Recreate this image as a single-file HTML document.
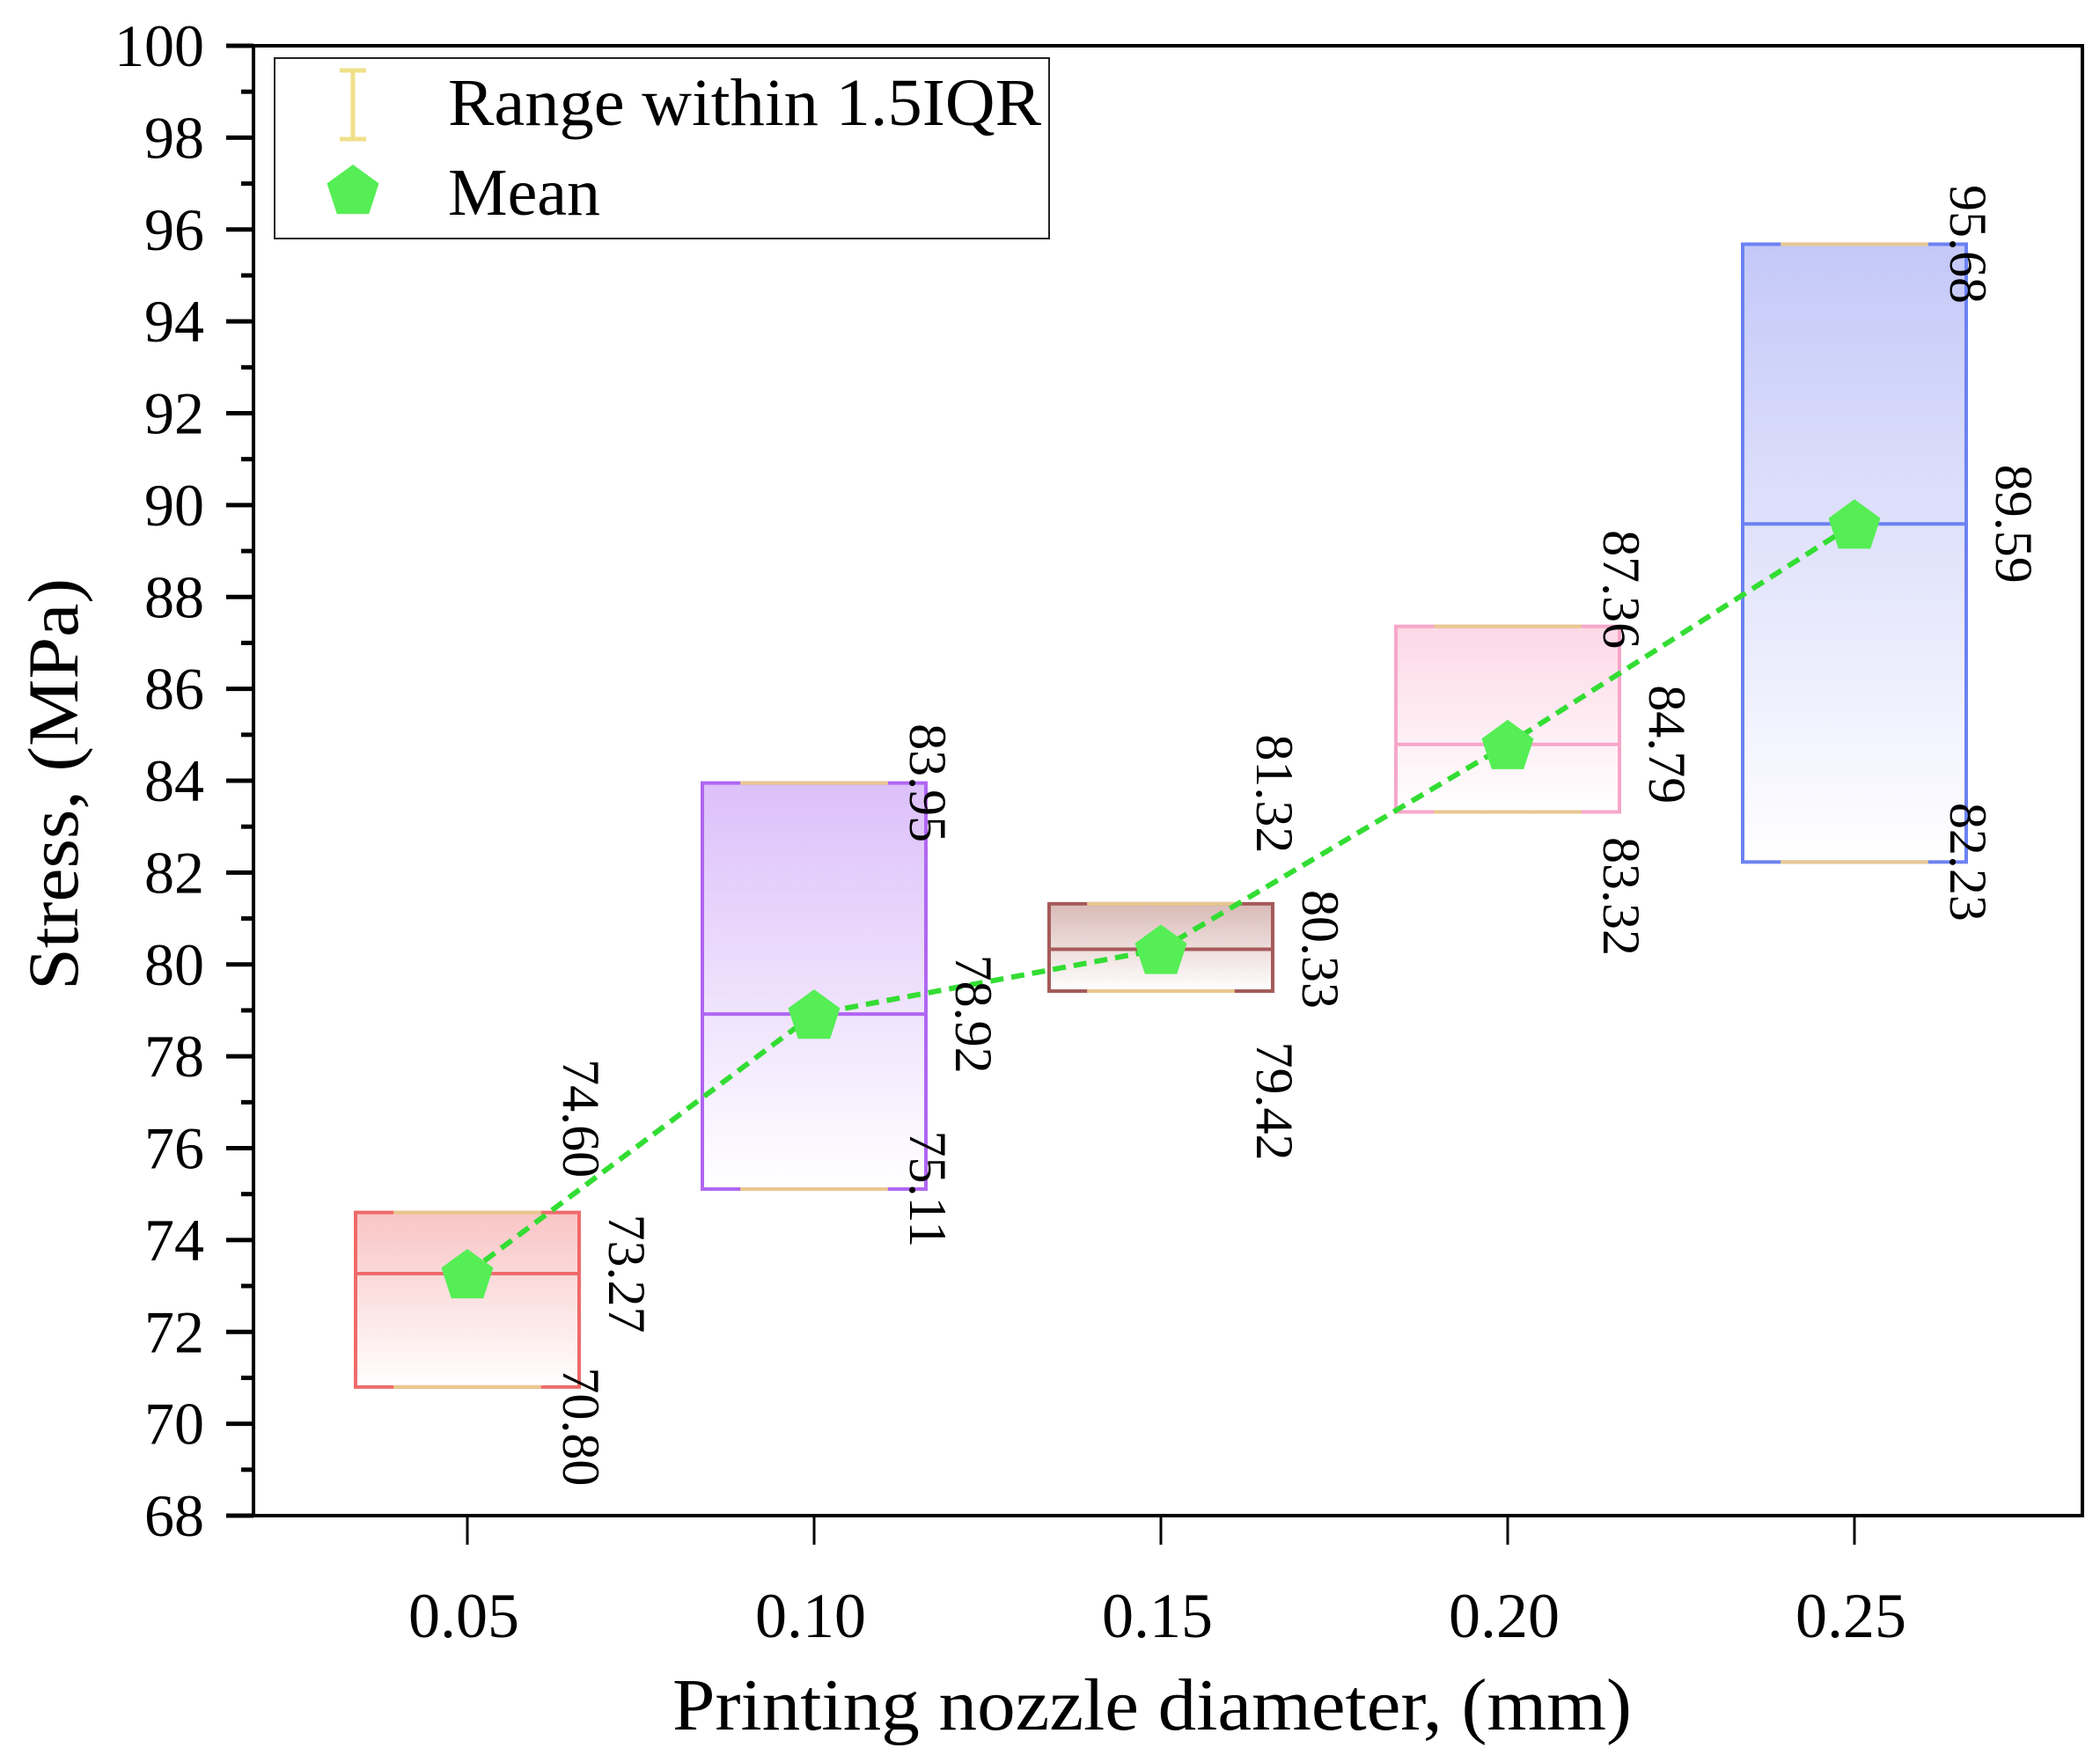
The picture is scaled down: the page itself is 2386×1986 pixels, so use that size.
<!DOCTYPE html>
<html><head><meta charset="utf-8"><style>
html,body{margin:0;padding:0;background:#fff}
svg{display:block}
text{font-family:"Liberation Serif",serif;fill:#000}
</style></head><body>
<svg id="chart" width="2386" height="1986" viewBox="0 0 2386 1986" xmlns="http://www.w3.org/2000/svg">
<defs id="defs"></defs>
<g id="plot"></g>
</svg>
<script>
const categories = ["0.05","0.10","0.15","0.20","0.25"];
const xValues = [0.05,0.10,0.15,0.20,0.25];
const maxVals = [74.60,83.95,81.32,87.36,95.68];
const medianVals = [73.27,78.92,80.33,84.79,89.59];
const minVals = [70.80,75.11,79.42,83.32,82.23];
const meanVals = [73.27,78.92,80.33,84.79,89.59];
const yTicks = [68,70,72,74,76,78,80,82,84,86,88,90,92,94,96,98,100];

const strokeColors = ["#f06a6a","#b066f2","#a65a5a","#f7a6ca","#6c82f2"];
const fillColors = ["#f9c4c4","#dcc0fa","#d9bab6","#fcd8e6","#c4c8f8"];
// label vertical shifts (px) to avoid overlaps
const maxShift = [-107,0,-125,-42,0];
const minShift = [45,0,125,96,0];

const L=288,R=2366,T=52,B=1722;
const X = v => 531 + (v-0.05)/0.05*394;
const Y = v => B - (v-68)/(100-68)*(B-T);
const NS="http://www.w3.org/2000/svg";
const svg=document.getElementById('chart');
const g=document.getElementById('plot');
const defs=document.getElementById('defs');
function el(tag,attrs,parent){const e=document.createElementNS(NS,tag);for(const k in attrs)e.setAttribute(k,attrs[k]);(parent||g).appendChild(e);return e;}

const hw=127;
categories.forEach((c,i)=>{
  const gr=el('linearGradient',{id:'gr'+i,x1:0,y1:0,x2:0,y2:1},defs);
  el('stop',{offset:'0','stop-color':fillColors[i]},gr);
  el('stop',{offset:'1','stop-color':'#ffffff'},gr);
  const cx=X(xValues[i]);
  const r=el('rect',{x:cx-hw,y:Y(maxVals[i]),width:2*hw,height:Y(minVals[i])-Y(maxVals[i]),fill:'url(#gr'+i+')',stroke:strokeColors[i],'stroke-width':4});
  
  
  const m=el('line',{x1:cx-hw,x2:cx+hw,y1:Y(medianVals[i]),y2:Y(medianVals[i]),stroke:strokeColors[i],'stroke-width':4});
  
  
  [maxVals[i],minVals[i]].forEach((v,j)=>{
    const cap=el('line',{x1:cx-hw*0.66,x2:cx+hw*0.66,y1:Y(v),y2:Y(v),stroke:'#e8c890','stroke-width':4});
    
    
  });
});

const pts=meanVals.map((v,i)=>X(xValues[i])+','+Y(v)).join(' ');
const ml=el('polyline',{points:pts,fill:'none',stroke:'#33dd33','stroke-width':6,'stroke-dasharray':'15,9'});


function pent(cx,cy,r){let p=[];for(let k=0;k<5;k++){const a=-Math.PI/2+k*2*Math.PI/5;p.push((cx+r*Math.cos(a)).toFixed(1)+','+(cy+r*Math.sin(a)).toFixed(1));}return p.join(' ');}
meanVals.forEach((v,i)=>{
  const p=el('polygon',{points:pent(X(xValues[i]),Y(v)+3,31),fill:'#55ee55'});
  
  
});

function vlabel(x,y,txt,name){
  const t=el('text',{x:0,y:0,'font-size':60,'text-anchor':'middle','dominant-baseline':'central',transform:`translate(${x},${y}) rotate(90)`});
  t.textContent=txt;
  
  
}
categories.forEach((c,i)=>{
  const cx=X(xValues[i]);
  vlabel(cx+hw+2,Y(maxVals[i])+maxShift[i],maxVals[i].toFixed(2),'max-label-'+c);
  vlabel(cx+hw+54,Y(medianVals[i]),medianVals[i].toFixed(2),'median-label-'+c);
  vlabel(cx+hw+2,Y(minVals[i])+minShift[i],minVals[i].toFixed(2),'min-label-'+c);
});

const fr=el('rect',{x:L,y:T,width:R-L,height:B-T,fill:'none',stroke:'#000','stroke-width':4});



for(let v=68;v<=100;v++){
  const major=v%2===0;
  const tk=el('line',{x1:L-(major?31:14),x2:L,y1:Y(v),y2:Y(v),stroke:'#000','stroke-width':5});
  
  
}
yTicks.forEach(v=>{
  const t=el('text',{x:232,y:Y(v),'font-size':68,'text-anchor':'end','dominant-baseline':'central'});
  t.textContent=v;
  
  
});
categories.forEach((c,i)=>{
  const x=X(xValues[i]);
  const tk=el('line',{x1:x,x2:x,y1:B,y2:B+33,stroke:'#000','stroke-width':3});
  
  
  const t=el('text',{x:x-4,y:1860,'font-size':72,'text-anchor':'middle'});
  t.textContent=c;
  
  
});

const xt=el('text',{x:1309,y:1965,'font-size':84,'text-anchor':'middle',textLength:1090,lengthAdjust:'spacingAndGlyphs'});
xt.textContent='Printing nozzle diameter, (mm)';


const yt=el('text',{x:0,y:0,'font-size':82,'text-anchor':'middle',textLength:468,lengthAdjust:'spacingAndGlyphs',transform:'translate(88,891) rotate(-90)'});
yt.textContent='Stress, (MPa)';



const lg=el('g',{});


el('rect',{x:312,y:66,width:880,height:205,fill:'#fff',stroke:'#222','stroke-width':2},lg);
const eb=el('path',{d:'M386 80 H416 M401 80 V158 M386 158 H416',stroke:'#f0e08a','stroke-width':5,fill:'none'},lg);


const t1=el('text',{x:509,y:142,'font-size':76,textLength:674,lengthAdjust:'spacingAndGlyphs'},lg);
t1.textContent='Range within 1.5IQR';


const lp=el('polygon',{points:pent(401,218,31),fill:'#55ee55'},lg);


const t2=el('text',{x:509,y:244,'font-size':76},lg);
t2.textContent='Mean';


</script>
</body></html>
